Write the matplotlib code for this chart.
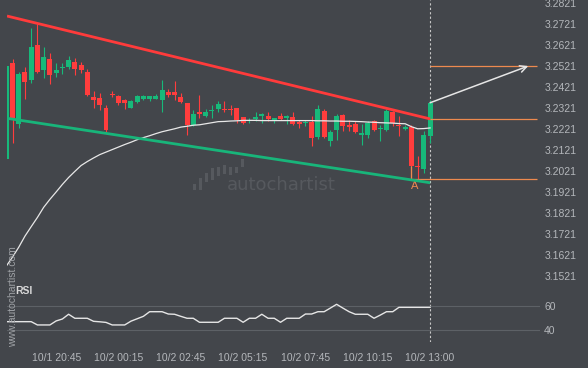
import matplotlib
matplotlib.use("Agg")
import matplotlib.pyplot as plt
import numpy as np

# 15 min candles, last one is the breakout candle
opens = [3.2078, 3.2537, 3.2246, 3.2493, 3.2455, 3.2621, 3.2502, 3.2553, 3.2489, 3.2513,
         3.2518, 3.2541, 3.2526, 3.2494, 3.2373, 3.2368, 3.2323, 3.2389, 3.2376, 3.2357,
         3.2323, 3.2349, 3.2366, 3.2366, 3.2366, 3.2357, 3.2399, 3.2396, 3.2373, 3.2347,
         3.2241, 3.2303, 3.2284, 3.2308, 3.2317, 3.2316, 3.2314, 3.2323, 3.2276, 3.2260,
         3.2268, 3.2285, 3.2285, 3.2257, 3.2285, 3.2275, 3.2276, 3.2256, 3.2250, 3.2254,
         3.2181, 3.2309, 3.2162, 3.2214, 3.2289, 3.2241, 3.2245, 3.2194, 3.2194, 3.2260,
         3.2221, 3.2214, 3.2304, 3.2241, 3.2221, 3.2230, 3.2047, 3.2031, 3.2186]
highs = [3.2521, 3.2553, 3.2494, 3.2518, 3.2700, 3.2720, 3.2610, 3.2581, 3.2537, 3.2534,
         3.2568, 3.2557, 3.2541, 3.2505, 3.2403, 3.2392, 3.2336, 3.2404, 3.2385, 3.2365,
         3.2357, 3.2384, 3.2384, 3.2380, 3.2388, 3.2455, 3.2411, 3.2450, 3.2392, 3.2347,
         3.2312, 3.2384, 3.2316, 3.2336, 3.2352, 3.2352, 3.2336, 3.2323, 3.2276, 3.2271,
         3.2300, 3.2297, 3.2302, 3.2275, 3.2297, 3.2290, 3.2302, 3.2262, 3.2262, 3.2285,
         3.2333, 3.2317, 3.2218, 3.2292, 3.2292, 3.2265, 3.2260, 3.2245, 3.2257, 3.2265,
         3.2241, 3.2317, 3.2309, 3.2285, 3.2241, 3.2241, 3.2091, 3.2210, 3.2360]
lows = [3.2078, 3.2155, 3.2226, 3.2363, 3.2442, 3.2486, 3.2463, 3.2436, 3.2467, 3.2483,
        3.2508, 3.2478, 3.2486, 3.2379, 3.2321, 3.2312, 3.2202, 3.2373, 3.2335, 3.2316,
        3.2321, 3.2344, 3.2360, 3.2354, 3.2366, 3.2300, 3.2373, 3.2360, 3.2344, 3.2194,
        3.2237, 3.2273, 3.2278, 3.2273, 3.2300, 3.2302, 3.2289, 3.2249, 3.2246, 3.2249,
        3.2257, 3.2249, 3.2257, 3.2249, 3.2262, 3.2246, 3.2241, 3.2226, 3.2235, 3.2142,
        3.2175, 3.2178, 3.2139, 3.2170, 3.2210, 3.2210, 3.2202, 3.2146, 3.2178, 3.2210,
        3.2165, 3.2210, 3.2233, 3.2186, 3.2214, 3.1989, 3.1984, 3.2012, 3.2155]
closes = [3.2521, 3.2273, 3.2483, 3.2447, 3.2612, 3.2494, 3.2565, 3.2478, 3.2502, 3.2518,
          3.2549, 3.2508, 3.2501, 3.2384, 3.2360, 3.2336, 3.2214, 3.2385, 3.2344, 3.2344,
          3.2352, 3.2376, 3.2376, 3.2376, 3.2380, 3.2407, 3.2384, 3.2384, 3.2349, 3.2241,
          3.2293, 3.2293, 3.2300, 3.2312, 3.2339, 3.2312, 3.2310, 3.2265, 3.2249, 3.2265,
          3.2278, 3.2292, 3.2268, 3.2273, 3.2268, 3.2284, 3.2246, 3.2246, 3.2255, 3.2178,
          3.2317, 3.2181, 3.2205, 3.2284, 3.2233, 3.2230, 3.2207, 3.2202, 3.2249, 3.2214,
          3.2226, 3.2309, 3.2249, 3.2233, 3.2230, 3.2047, 3.2041, 3.2194, 3.2347]

# moving average (white line)
ma = [3.1568, 3.1611, 3.1658, 3.1711, 3.1756, 3.1800, 3.1848, 3.1886, 3.1921, 3.1957,
      3.1990, 3.2019, 3.2047, 3.2066, 3.2083, 3.2099, 3.2111, 3.2123, 3.2135, 3.2147,
      3.2158, 3.2170, 3.2180, 3.2189, 3.2199, 3.2208, 3.2215, 3.2222, 3.2230, 3.2234,
      3.2239, 3.2241, 3.2246, 3.2251, 3.2256, 3.2257, 3.2259, 3.2260, 3.2262, 3.2262,
      3.2262, 3.2261, 3.2261, 3.2261, 3.2261, 3.2261, 3.2261, 3.2261, 3.2261, 3.2261,
      3.2260, 3.2260, 3.2259, 3.2259, 3.2258, 3.2258, 3.2257, 3.2256, 3.2254, 3.2253,
      3.2251, 3.2250, 3.2249, 3.2247, 3.2246, 3.2232, 3.2222, 3.2223, 3.2226]

rsi = [47.1, 47.1, 47.1, 47.1, 47.1, 44.4, 44.4, 44.4, 47.7, 49.3,
       53.2, 49.9, 49.9, 49.9, 47.4, 47.0, 46.5, 44.4, 44.4, 44.4,
       47.5, 49.5, 51.5, 55.3, 55.3, 55.3, 53.4, 53.2, 51.5, 49.9,
       49.9, 46.6, 46.6, 46.6, 46.6, 49.9, 49.9, 49.9, 46.6, 49.9,
       49.9, 53.2, 49.9, 49.9, 46.6, 49.9, 49.9, 49.9, 53.4, 53.4,
       55.3, 55.3, 58.3, 61.4, 58.3, 55.3, 53.2, 53.2, 53.2, 49.9,
       52.5, 55.3, 55.3, 58.9, 58.9, 58.9, 58.9, 58.9, 58.9]

time_ticks = [8, 18, 28, 38, 48, 58, 68]
time_labels = ['10/1 20:45', '10/2 00:15', '10/2 02:45', '10/2 05:15',
               '10/2 07:45', '10/2 10:15', '10/2 13:00']
price_ticks = [3.1521, 3.1621, 3.1721, 3.1821, 3.1921, 3.2021, 3.2121,
               3.2221, 3.2321, 3.2421, 3.2521, 3.2621, 3.2721, 3.2821]
rsi_ticks = [40, 60]

# pattern lines and forecast
res_x, res_y = [0.12, 68], [3.2759, 3.2269]
sup_x, sup_y = [0.12, 68], [3.2272, 3.1965]
breakout_idx = 68
target_level = 3.2521
breakout_level = 3.2267
low_level = 3.1981
arrow_start = (68, 3.2346)
arrow_end = (83.75, 3.2521)

bg = '#43464b'
red = '#ff3d3d'
green = '#17b97a'
orange = '#ee8a4f'
txt = '#b4b7bb'

W, H = 588, 368
def box(l, t, r, b):
    return [l / W, 1 - b / H, (r - l) / W, (b - t) / H]

fig = plt.figure(figsize=(W / 100, H / 100), dpi=100, facecolor=bg)
ax = fig.add_axes(box(7, 0, 540, 285), facecolor=bg)
rax = fig.add_axes(box(7, 285, 540, 342), facecolor=bg)

idx = np.arange(len(opens))
o = np.array(opens)
c = np.array(closes)
cols = np.where(c >= o, green, red)
ax.vlines(idx, lows, highs, colors=cols, lw=0.8, zorder=2)
ax.bar(idx, np.maximum(np.abs(c - o), 0.0005), bottom=np.minimum(o, c),
       width=0.8, color=cols, linewidth=0, zorder=3)

ax.plot(idx, ma, color='#e8e8e8', lw=0.9, zorder=4)
ax.plot(res_x, res_y, color='#ff3b3b', lw=2.0, zorder=5, solid_capstyle='butt')
ax.plot(sup_x, sup_y, color='#18b57a', lw=2.0, zorder=5, solid_capstyle='butt')

ax.hlines([target_level, breakout_level], breakout_idx, 85.1, color=orange, lw=0.9, zorder=4)
ax.hlines(low_level, 65, 85.1, color=orange, lw=0.9, zorder=4)
ax.vlines(65, low_level, closes[65], color=orange, lw=0.9, zorder=4)
ax.text(65.5, 3.1951, 'A', color=orange, fontsize=8, ha='center', va='center',
        family='Liberation Sans')
ax.annotate('', xy=arrow_end, xytext=arrow_start,
            arrowprops=dict(arrowstyle='->', color='#e6e6e6', lw=1.1,
                            shrinkA=0, shrinkB=0, mutation_scale=12), zorder=6)

for a in (ax, rax):
    a.axvline(breakout_idx, color='#c8c8c8', lw=0.8, dashes=(2, 2), zorder=1)
    for s in a.spines.values():
        s.set_visible(False)
    a.set_xlim(0.117, 85.63)
    a.yaxis.tick_right()
    a.tick_params(length=0, labelsize=7.5, labelcolor=txt, pad=3)

ax.set_ylim(3.14781, 3.28353)
ax.set_yticks(price_ticks)
ax.set_yticklabels([f'{v:.4f}' for v in price_ticks], family='Liberation Sans')
ax.set_xticks([])

rax.plot(idx, rsi, color='#e6e6e6', lw=1.0, zorder=3)
rax.set_ylim(30.37, 77.28)
rax.set_yticks(rsi_ticks)
rax.set_yticklabels([str(v) for v in rsi_ticks], family='Liberation Sans')
for lv in rsi_ticks:
    rax.axhline(lv, color='#5d6166', lw=0.8, zorder=1)
rax.set_xticks(time_ticks)
rax.set_xticklabels(time_labels, family='Liberation Sans')
rax.tick_params(axis='x', pad=8)

# watermarks
fig.text(15 / W, 1 - 291 / H, 'RSI', color='#d8d8d8', fontsize=7.5, fontweight='bold',
         va='center', family='Liberation Sans')
fig.text(13.5 / W, 1 - 297 / H, 'www.autochartist.com', color='#9fa2a6', fontsize=7.5,
         rotation=90, ha='center', va='center', family='Liberation Sans')
fig.text(227 / W, 1 - 190 / H, 'autochartist', color='#56595e', fontsize=13,
         va='baseline', family='DejaVu Sans')
logo_bottom = [1.7, 1.7, 10.3, 12.0, 16.0, 18.3, 17.0, 19.3, 25.0]
logo_top = [7.7, 14.3, 19.3, 23.7, 25.0, 27.0, 25.0, 25.0, 32.7]
lax = fig.add_axes(box(191, 157, 247, 192))
lax.axis('off')
lax.bar(range(9), np.array(logo_top) - np.array(logo_bottom), bottom=logo_bottom,
        width=0.5, color='#56595e')
lax.set_xlim(-0.5, 8.7)
lax.set_ylim(0, 35)

fig.savefig('out.png', dpi=100, facecolor=bg)
